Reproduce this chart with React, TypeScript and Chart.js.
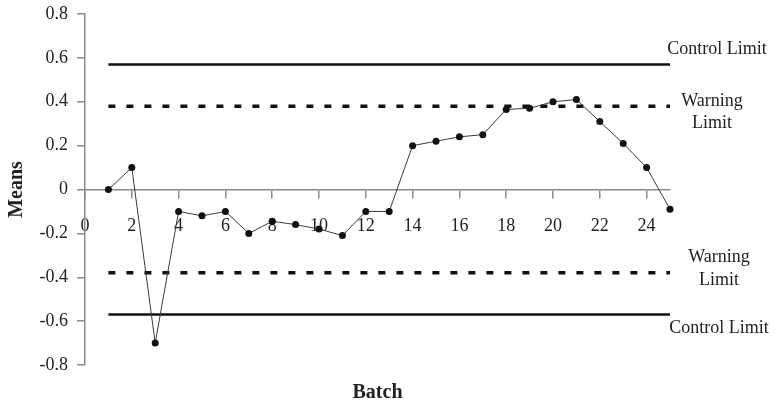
import React, { useEffect, useRef } from "react";
import { Chart, registerables } from "chart.js";

Chart.register(...registerables);

// ---- data ----
const batches = [1, 2, 3, 4, 5, 6, 7, 8, 9, 10, 11, 12, 13, 14, 15, 16, 17, 18, 19, 20, 21, 22, 23, 24, 25];
const means = [0, 0.1, -0.7, -0.1, -0.12, -0.1, -0.2, -0.145, -0.16, -0.18, -0.21, -0.1, -0.1, 0.2, 0.22, 0.24, 0.25, 0.365, 0.37, 0.4, 0.41, 0.31, 0.21, 0.1, -0.09];
const controlLimit = 0.57;
const warningLimit = 0.38;
const limitRange = [1, 25];
const xTickValues = [0, 2, 4, 6, 8, 10, 12, 14, 16, 18, 20, 22, 24];
const yTickValues = [-0.8, -0.6, -0.4, -0.2, 0, 0.2, 0.4, 0.6, 0.8];
const yTickLabels = ["-0.8", "-0.6", "-0.4", "-0.2", "0", "0.2", "0.4", "0.6", "0.8"];
const xTitle = "Batch";
const yTitle = "Means";
const controlLabel = ["Control Limit"];
const warningLabel = ["Warning", "Limit"];

const FONT = '"Liberation Serif", "Times New Roman", serif';
const TEXT = "#222";
const AXIS = "#8a8a8a";

const limitTextPlugin = {
  id: "limitText",
  afterDraw(chart: any) {
    const { ctx, chartArea, scales } = chart;
    const y = scales.y;
    const right = chartArea.right;
    const items = [
      { lines: controlLabel, value: controlLimit, dx: 47, dy: [-15] },
      { lines: warningLabel, value: warningLimit, dx: 42, dy: [-5, 17] },
      { lines: warningLabel, value: -warningLimit, dx: 49, dy: [-16, 7] },
      { lines: controlLabel, value: -controlLimit, dx: 49, dy: [14] },
    ];
    ctx.save();
    ctx.font = `18px ${FONT}`;
    ctx.fillStyle = TEXT;
    ctx.textAlign = "center";
    ctx.textBaseline = "middle";
    items.forEach((it) => {
      const py = y.getPixelForValue(it.value);
      it.lines.forEach((t, i) => ctx.fillText(t, right + it.dx, py + it.dy[i]));
    });
    ctx.restore();
  },
};

export default function App() {
  const ref = useRef<HTMLCanvasElement | null>(null);
  useEffect(() => {
    if (!ref.current) return;
    const limitLine = (v: number) => limitRange.map((x) => ({ x, y: v }));
    const chart = new Chart(ref.current, {
      type: "line",
      data: {
        datasets: [
          {
            label: "Means",
            data: batches.map((b, i) => ({ x: b, y: means[i] })),
            borderColor: "#3a3a3a",
            borderWidth: 1,
            pointRadius: 3.5,
            pointBackgroundColor: "#111",
            pointBorderColor: "#111",
            pointBorderWidth: 0,
            tension: 0,
            clip: false,
          },
          { label: "UCL", data: limitLine(controlLimit), borderColor: "#111", borderWidth: 2.5, pointRadius: 0, clip: false },
          { label: "UWL", data: limitLine(warningLimit), borderColor: "#111", borderWidth: 3.5, borderDash: [7, 11], pointRadius: 0, clip: false },
          { label: "LWL", data: limitLine(-warningLimit), borderColor: "#111", borderWidth: 3.5, borderDash: [7, 11], pointRadius: 0, clip: false },
          { label: "LCL", data: limitLine(-controlLimit), borderColor: "#111", borderWidth: 2.5, pointRadius: 0, clip: false },
        ],
      },
      options: {
        responsive: false,
        animation: false,
        layout: { padding: { top: 14, right: 107, bottom: 0, left: 0 } },
        plugins: {
          legend: { display: false },
          tooltip: { enabled: false },
          title: {
            display: true,
            position: "bottom",
            fullSize: false,
            text: xTitle,
            color: TEXT,
            font: { family: FONT, size: 20, weight: "bold" },
            padding: { top: 16, bottom: 1 },
          },
        },
        scales: {
          x: {
            type: "linear",
            min: 0,
            max: 25,
            position: { y: 0 } as any,
            afterBuildTicks: (s: any) => {
              s.ticks = xTickValues.map((v) => ({ value: v }));
            },
            afterFit: (s: any) => {
              s.height = 0;
            },
            grid: { drawOnChartArea: false, drawTicks: true, tickLength: 8, color: AXIS, lineWidth: 1.5 },
            border: { display: true, color: AXIS, width: 1.5 },
            ticks: { color: TEXT, font: { family: FONT, size: 18 }, padding: 18, maxRotation: 0, autoSkip: false },
          },
          y: {
            type: "linear",
            min: -0.8,
            max: 0.8,
            position: "left",
            afterBuildTicks: (s: any) => {
              s.ticks = yTickValues.map((v) => ({ value: v }));
            },
            afterFit: (s: any) => {
              s.width = 85;
              s.paddingTop = 0;
              s.paddingBottom = 0;
            },
            grid: { drawOnChartArea: false, drawTicks: true, tickLength: 8, color: AXIS, lineWidth: 1.5 },
            border: { display: true, color: AXIS, width: 1.5 },
            ticks: {
              color: TEXT,
              font: { family: FONT, size: 18 },
              padding: 9,
              autoSkip: false,
              callback: (_v: any, i: number) => yTickLabels[i],
            },
            title: {
              display: true,
              text: yTitle,
              color: TEXT,
              font: { family: FONT, size: 20, weight: "bold" },
              padding: { top: 5, bottom: 0 },
            },
          },
        },
      },
      plugins: [limitTextPlugin],
    });
    return () => chart.destroy();
  }, []);
  return (
    <div style={{ position: "absolute", left: 0, top: 0, width: 777, height: 406 }}>
      <canvas ref={ref} width={777} height={406} style={{ display: "block" }} />
    </div>
  );
}
